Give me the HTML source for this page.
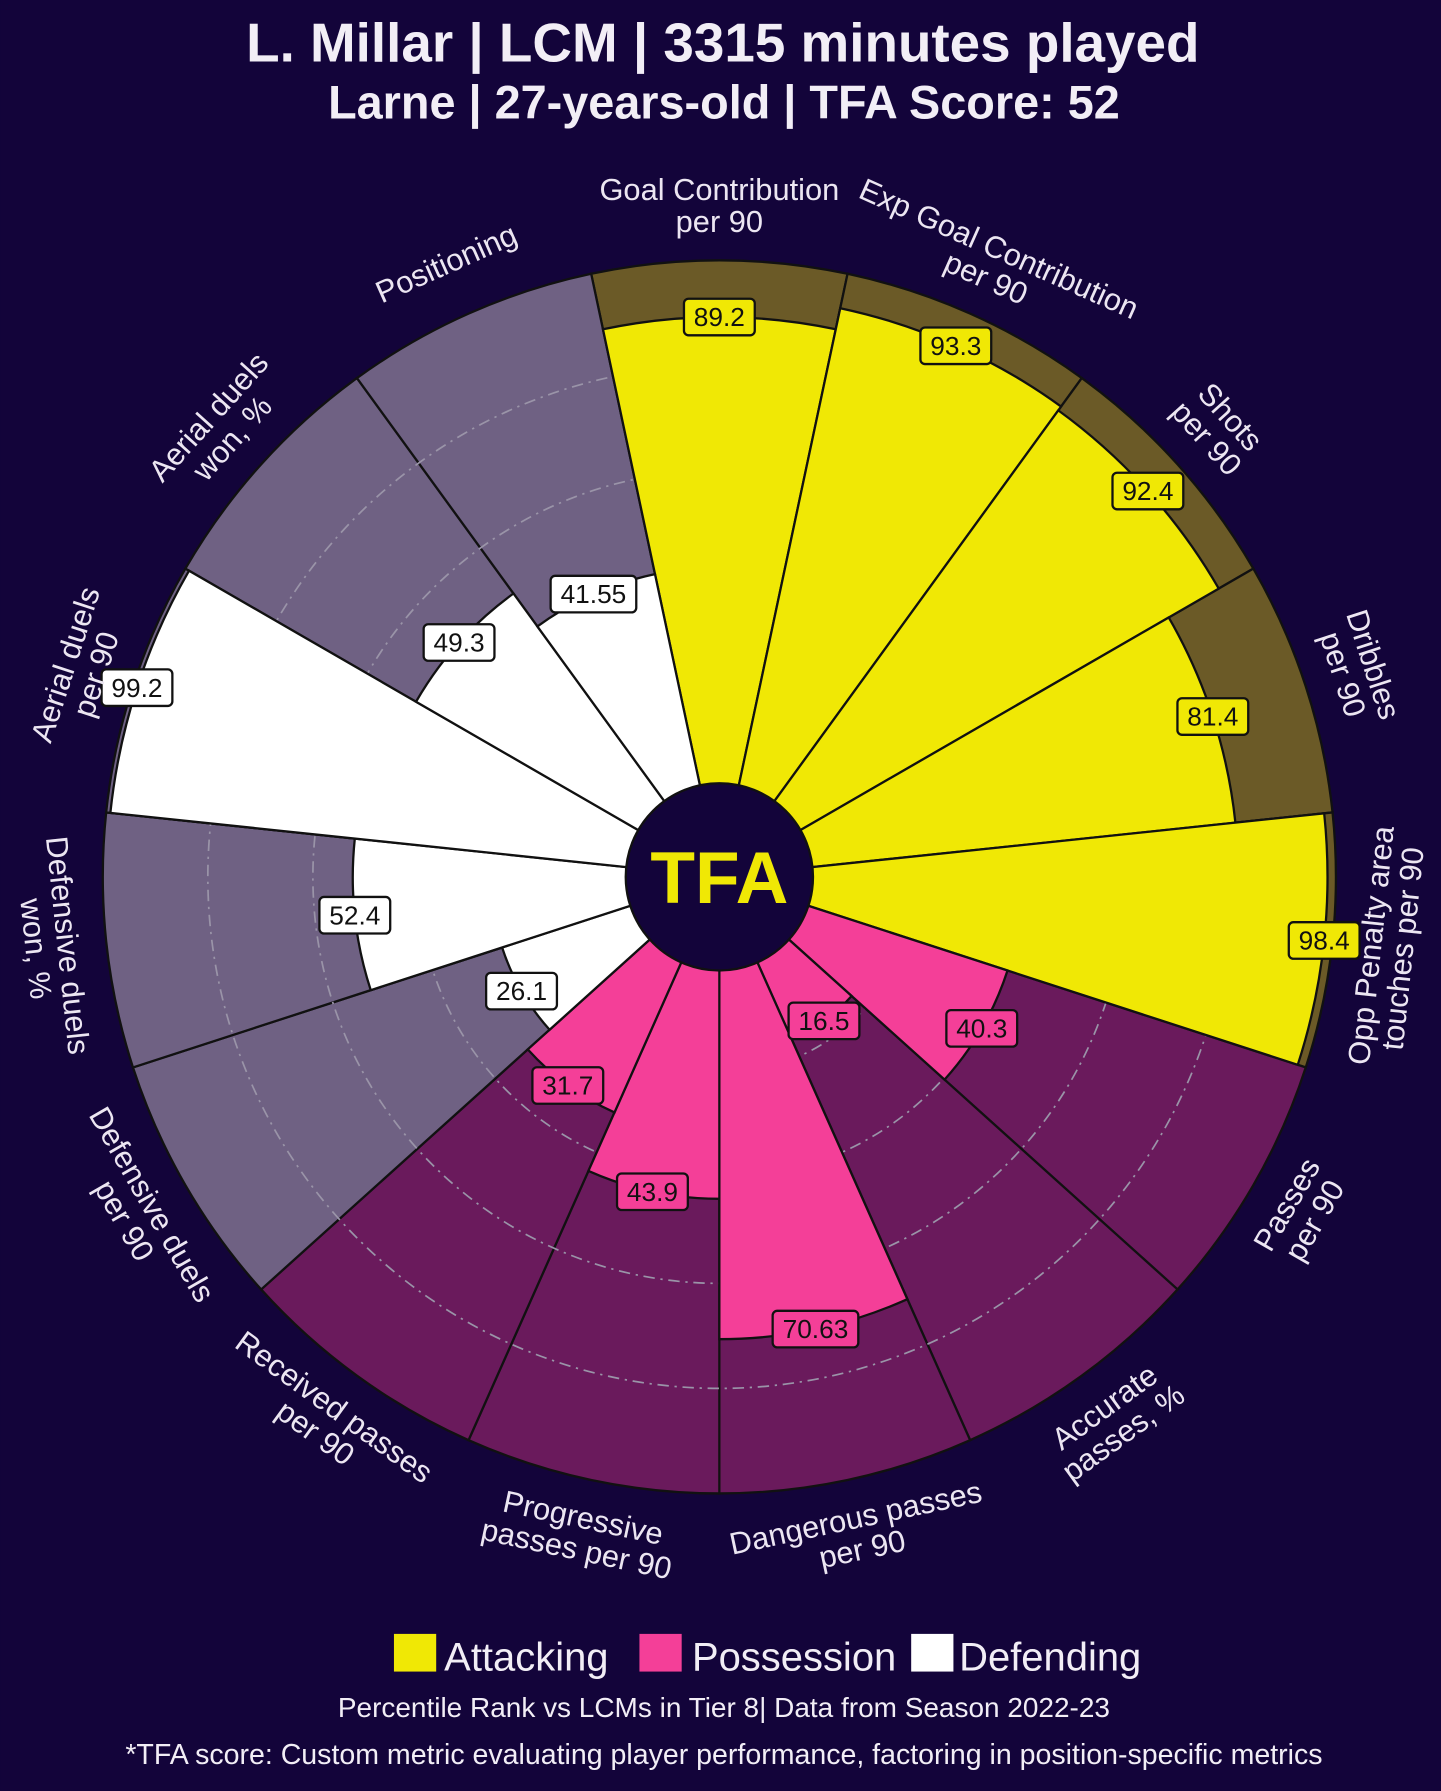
<!DOCTYPE html>
<html><head><meta charset="utf-8"><style>
html,body{margin:0;padding:0;background:#13043a;}
svg{display:block}
text{font-family:"Liberation Sans",sans-serif;}
</style></head><body>
<svg id="s" width="1441" height="1791" viewBox="0 0 1262 1568.6" xmlns="http://www.w3.org/2000/svg">
<rect width="1262" height="1569" fill="#13043a"/>
<text x="633" y="54" text-anchor="middle" font-size="48" font-weight="bold" fill="#f2eef6">L. Millar | LCM | 3315 minutes played</text>
<text x="634" y="104" text-anchor="middle" font-size="41" font-weight="bold" fill="#f2eef6">Larne | 27-years-old | TFA Score: 52</text>
<g id="chart"></g>
<rect x="345" y="1431" width="37" height="33" fill="#f0e805"/>
<text x="389" y="1463" font-size="35" fill="#f2eef6">Attacking</text>
<rect x="560" y="1431" width="37" height="33" fill="#f43f98"/>
<text x="606" y="1463" font-size="35" fill="#f2eef6">Possession</text>
<rect x="798" y="1431" width="37" height="33" fill="#ffffff"/>
<text x="840" y="1463" font-size="35" fill="#f2eef6">Defending</text>
<text x="634" y="1504" text-anchor="middle" font-size="24.5" fill="#f2eef6">Percentile Rank vs LCMs in Tier 8| Data from Season 2022-23</text>
<text x="634" y="1545" text-anchor="middle" font-size="25" fill="#f2eef6">*TFA score: Custom metric evaluating player performance, factoring in position-specific metrics</text>
</svg>
<script>
var cx=630,cy=768,R=540,r0=80,N=15,step=24;
var d=[["Goal Contribution","per 90",89.2,0],["Exp Goal Contribution","per 90",93.3,0],["Shots","per 90",92.4,0],["Dribbles","per 90",81.4,0],["Opp Penalty area","touches per 90",98.4,0],["Passes","per 90",40.3,1],["Accurate","passes, %",16.5,1],["Dangerous passes","per 90",70.63,1],["Progressive","passes per 90",43.9,1],["Received passes","per 90",31.7,1],["Defensive duels","per 90",26.1,2],["Defensive duels","won, %",52.4,2],["Aerial duels","per 90",99.2,2],["Aerial duels","won, %",49.3,2],["Positioning","",41.55,2]];
var bg=["#6b5a27","#6a1a5c","#6f6183"],fg=["#f0e805","#f43f98","#ffffff"];
function pt(r,a){var t=a*Math.PI/180;return [cx+r*Math.sin(t),cy-r*Math.cos(t)];}
function wedge(r,a1,a2,fill){var p1=pt(r,a1),p2=pt(r,a2);return '<path d="M'+cx+','+cy+' L'+p1[0]+','+p1[1]+' A'+r+','+r+' 0 0 1 '+p2[0]+','+p2[1]+' Z" fill="'+fill+'" stroke="#111" stroke-width="2"/>';}
var h='';
d.forEach(function(e,i){var a=i*step;h+=wedge(R,a-12,a+12,bg[e[3]]);});
[172,264,356,448].forEach(function(r){h+='<circle cx="'+cx+'" cy="'+cy+'" r="'+r+'" fill="none" stroke="#9a94a8" stroke-width="1.5" stroke-dasharray="10,5,2,5"/>';});
d.forEach(function(e,i){var a=i*step;h+=wedge(r0+(R-r0)*e[2]/100,a-12,a+12,fg[e[3]]);});
h+='<circle cx="'+cx+'" cy="'+cy+'" r="82" fill="#13043a" stroke="#111" stroke-width="2"/>';
h+='<text x="'+cx+'" y="'+(cy+23)+'" text-anchor="middle" font-size="64" font-weight="bold" fill="#f0e805">TFA</text>';
d.forEach(function(e,i){var a=i*step;var r=r0+(R-r0)*e[2]/100;var p=pt(r,a);var s=String(e[2]);var w=s.length*13+10;
h+='<rect x="'+(p[0]-w/2)+'" y="'+(p[1]-16)+'" width="'+w+'" height="32" rx="4" fill="'+fg[e[3]]+'" stroke="#111" stroke-width="2"/>';
h+='<text x="'+p[0]+'" y="'+(p[1]+8)+'" text-anchor="middle" font-size="23" fill="#111">'+s+'</text>';
var q=pt(588,a);var rot=a<=90?a:(a<270?a-180:a-360);
var two=e[1]!=='';
h+='<g transform="translate('+q[0]+','+q[1]+') rotate('+rot+')">';
if(two){h+='<text x="0" y="-5" text-anchor="middle" font-size="27" fill="#ece6f2">'+e[0]+'</text><text x="0" y="23" text-anchor="middle" font-size="27" fill="#ece6f2">'+e[1]+'</text>';}
else{h+='<text x="0" y="9" text-anchor="middle" font-size="27" fill="#ece6f2">'+e[0]+'</text>';}
h+='</g>';});
document.getElementById('chart').innerHTML=h;
</script>
</body></html>
